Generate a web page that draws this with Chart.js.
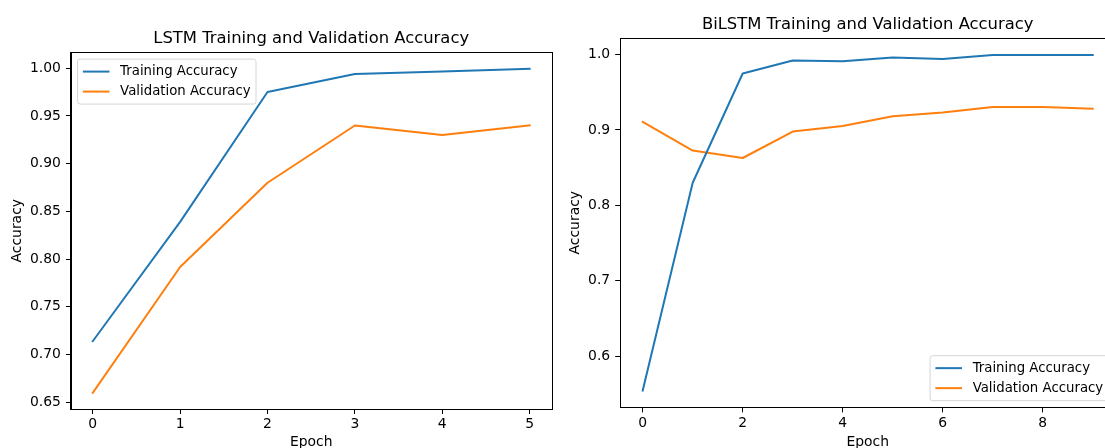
<!DOCTYPE html>
<html><head><meta charset="utf-8">
<script src="https://cdn.jsdelivr.net/npm/chart.js@4.4.1/dist/chart.umd.min.js"></script>
<style>
html,body{margin:0;padding:0;background:#fff;overflow:hidden;width:1105px;height:448px;position:relative;}
canvas{position:absolute;top:0;}
#c1{left:0;}
#c2{left:560px;}
</style></head><body>
<canvas id="c1" width="560" height="470"></canvas>
<canvas id="c2" width="600" height="470"></canvas>
<script>
// ---------- data ----------
const seriesLabels = ['Training Accuracy', 'Validation Accuracy'];
const lstmTitle = 'LSTM Training and Validation Accuracy';
const bilstmTitle = 'BiLSTM Training and Validation Accuracy';
const xAxisTitle = 'Epoch';
const yAxisTitle = 'Accuracy';

const lstmEpochs = [0, 1, 2, 3, 4, 5];
const lstmTrain  = [0.714, 0.839, 0.975, 0.994, 0.9966, 0.9995];
const lstmVal    = [0.660, 0.7917, 0.880, 0.940, 0.930, 0.940];
const lstmXTicks = [0, 1, 2, 3, 4, 5];
const lstmYTicks = [0.65, 0.70, 0.75, 0.80, 0.85, 0.90, 0.95, 1.00];

const bilstmEpochs = [0, 1, 2, 3, 4, 5, 6, 7, 8, 9];
const bilstmTrain  = [0.5545, 0.830, 0.9748, 0.992, 0.991, 0.996, 0.9942, 0.9995, 0.9995, 0.9995];
const bilstmVal    = [0.9106, 0.8726, 0.8628, 0.8978, 0.9053, 0.9182, 0.9230, 0.9305, 0.9305, 0.9283];
const bilstmXTicks = [0, 2, 4, 6, 8];
const bilstmYTicks = [0.6, 0.7, 0.8, 0.9, 1.0];

// ---------- styling ----------
const C_BLUE = '#1f77b4', C_ORANGE = '#ff7f0e';
const FONT = '"DejaVu Sans", sans-serif';
Chart.defaults.font.family = FONT;
Chart.defaults.color = '#000';

const framePlugin = {
  id: 'frame',
  afterDatasetsDraw(chart) {
    const {ctx, chartArea: a} = chart;
    ctx.save();
    ctx.strokeStyle = '#000';
    ctx.lineWidth = 1;
    const l = Math.round(a.left) + 0.5, t = Math.round(a.top) + 0.5;
    const r = Math.round(a.right) + 0.5, b = Math.round(a.bottom) + 0.5;
    ctx.strokeRect(l, t, r - l, b - t);
    ctx.restore();
  }
};

const legendPlugin = {
  id: 'mplLegend',
  afterDraw(chart, args, o) {
    const ctx = chart.ctx, a = chart.chartArea;
    const fs = o.fontSize;
    const ds = chart.data.datasets;
    ctx.save();
    ctx.font = fs + 'px ' + FONT;
    const tw = Math.max(...ds.map(d => ctx.measureText(d.label).width));
    const pad = 0.4 * fs, hl = 2 * fs, htp = 0.8 * fs, rowH = o.rowHeight, bh = o.boxHeight;
    const w = pad + hl + htp + tw + pad;
    const gap = 0.5 * fs;
    let x, y;
    if (o.corner === 'tl') { x = a.left + gap; y = a.top + gap; }
    else { x = a.right - gap - w; y = a.bottom - gap - bh; }
    const rr = 0.2 * fs;
    ctx.beginPath();
    ctx.moveTo(x + rr, y);
    ctx.lineTo(x + w - rr, y); ctx.quadraticCurveTo(x + w, y, x + w, y + rr);
    ctx.lineTo(x + w, y + bh - rr); ctx.quadraticCurveTo(x + w, y + bh, x + w - rr, y + bh);
    ctx.lineTo(x + rr, y + bh); ctx.quadraticCurveTo(x, y + bh, x, y + bh - rr);
    ctx.lineTo(x, y + rr); ctx.quadraticCurveTo(x, y, x + rr, y);
    ctx.closePath();
    ctx.fillStyle = 'rgba(255,255,255,0.8)';
    ctx.fill();
    ctx.strokeStyle = 'rgba(204,204,204,0.8)';
    ctx.lineWidth = 1;
    ctx.stroke();
    const n = ds.length;
    ds.forEach((d, i) => {
      const cy = y + bh / 2 + (i - (n - 1) / 2) * rowH;
      ctx.beginPath();
      ctx.strokeStyle = d.borderColor;
      ctx.lineWidth = d.borderWidth;
      ctx.moveTo(x + pad, cy);
      ctx.lineTo(x + pad + hl, cy);
      ctx.stroke();
      ctx.fillStyle = '#000';
      ctx.textBaseline = 'middle';
      ctx.textAlign = 'left';
      ctx.fillText(d.label, x + pad + hl + htp, cy);
    });
    ctx.restore();
  }
};

function pts(xs, ys) { return xs.map((x, i) => ({x: x, y: ys[i]})); }

function ds(label, xs, ys, color) {
  return {label, data: pts(xs, ys), borderColor: color, backgroundColor: color,
    borderWidth: 2, pointRadius: 0, pointHoverRadius: 0, tension: 0, fill: false,
    borderJoinStyle: 'round', borderCapStyle: 'square'};
}

function makeChart(id, cfg) {
  const tickFont = {size: 13.9};
  return new Chart(document.getElementById(id), {
    type: 'line',
    data: {datasets: [
      ds(seriesLabels[0], cfg.epochs, cfg.train, C_BLUE),
      ds(seriesLabels[1], cfg.epochs, cfg.val, C_ORANGE)
    ]},
    options: {
      responsive: false, animation: false, devicePixelRatio: 1,
      events: [],
      layout: {padding: {left: 0, right: cfg.padRight, top: 0, bottom: 0}},
      plugins: {
        legend: {display: false},
        tooltip: {enabled: false},
        title: {display: true, text: cfg.title, fullSize: false, color: '#000',
          font: {size: 16.4, weight: 'normal'}, padding: {top: cfg.titleTop, bottom: cfg.titleBottom}},
        mplLegend: {corner: cfg.corner, fontSize: 13.3, rowHeight: 20, boxHeight: 45}
      },
      scales: {
        x: {type: 'linear', min: cfg.xMin, max: cfg.xMax,
          afterBuildTicks: s => { s.ticks = cfg.xTicks.map(v => ({value: v})); },
          afterFit: s => { s.height = cfg.xH; },
          ticks: {autoSkip: false, maxRotation: 0, minRotation: 0, padding: 2.5, color: '#000', font: tickFont,
            callback: v => String(v)},
          grid: {display: true, drawOnChartArea: false, drawTicks: true, tickLength: 5, tickColor: '#000', tickWidth: 1},
          border: {display: true, color: '#000', width: 1},
          title: {display: true, text: xAxisTitle, color: '#000', font: {size: 13.9}, padding: {top: 0, bottom: 18.8}}
        },
        y: {type: 'linear', min: cfg.yMin, max: cfg.yMax,
          afterBuildTicks: s => { s.ticks = cfg.yTicks.map(v => ({value: v})); },
          afterFit: s => { s.width = cfg.yW; },
          ticks: {autoSkip: false, padding: 5, color: '#000', font: tickFont,
            callback: v => Number(v).toFixed(cfg.yDigits)},
          grid: {display: true, drawOnChartArea: false, drawTicks: true, tickLength: 5, tickColor: '#000', tickWidth: 1},
          border: {display: true, color: '#000', width: 1},
          title: {display: true, text: yAxisTitle, color: '#000', font: {size: 13.9}, padding: {top: cfg.yTitlePad, bottom: 0}}
        }
      }
    },
    plugins: [framePlugin, legendPlugin]
  });
}

makeChart('c1', {
  title: lstmTitle, epochs: lstmEpochs, train: lstmTrain, val: lstmVal,
  xTicks: lstmXTicks, yTicks: lstmYTicks, yDigits: 2,
  xMin: -0.25, xMax: 5.25, yMin: 0.643, yMax: 1.0165,
  padRight: 8.5, yW: 70.9, xH: 61, titleTop: 28.9, titleBottom: 3.86, yTitlePad: 9.5, corner: 'tl'
});

makeChart('c2', {
  title: bilstmTitle, epochs: bilstmEpochs, train: bilstmTrain, val: bilstmVal,
  xTicks: bilstmXTicks, yTicks: bilstmYTicks, yDigits: 1,
  xMin: -0.45, xMax: 9.45, yMin: 0.53225, yMax: 1.02175,
  padRight: 44.8, yW: 60.2, xH: 62.7, titleTop: 14.58, titleBottom: 3.86, yTitlePad: 6.6, corner: 'br'
});
</script>
</body></html>
